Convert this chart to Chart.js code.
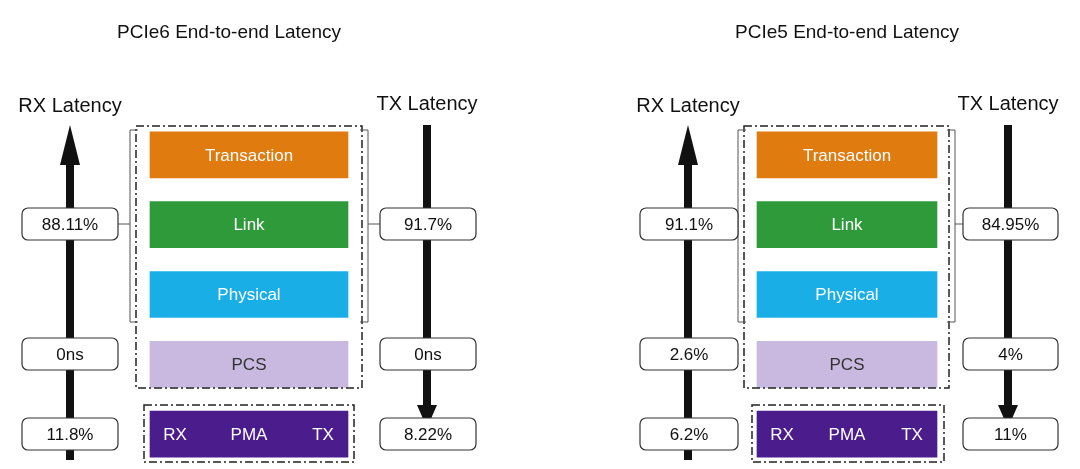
<!DOCTYPE html><html><head><meta charset="utf-8">
<script src="https://cdn.jsdelivr.net/npm/chart.js@4"></script>
<style>html,body{margin:0;background:#fff}#w{width:1080px;height:469px}</style></head><body>
<div id="w"><canvas id="c"></canvas></div>
<script>
const layers=['Transaction','Link','Physical','PCS','PMA'];
const layerColors=['#E07B10','#2E9A3A','#1AAEE6','#C9B8E0','#4B1C8C'];
const titles=['PCIe6 End-to-end Latency','PCIe5 End-to-end Latency'];
const rx6=['88.11%','0ns','11.8%'], tx6=['91.7%','0ns','8.22%'];
const rx5=['91.1%','2.6%','6.2%'], tx5=['84.95%','4%','11%'];
const spans6=[150,348], spans5=[757,937];
const panels=[{t:titles[0],rx:rx6,tx:tx6,bar:spans6,ra:70,ta:427,fr:[136,362],pm:[144,354],tx0:20,br:[130,368],rb:[22,118],tb:[380,476]},
 {t:titles[1],rx:rx5,tx:tx5,bar:spans5,ra:688,ta:1008,fr:[744,949],pm:[752,944],tx0:0,br:[738,955],rb:[640,738],tb:[963,1058]}];
function rr(ctx,x,y,w,h,r){ctx.beginPath();ctx.roundRect(x,y,w,h,r);}
const deco={id:'deco',afterDatasetsDraw(ch){
 const ctx=ch.ctx,X=ch.scales.x,Y=ch.scales.y;const px=v=>X.getPixelForValue(v);
 const cy=i=>Y.getPixelForValue(i);
 ctx.save();ctx.textAlign='center';ctx.textBaseline='middle';
 // bar labels
 panels.forEach(p=>{const a=px(p.bar[0]),b=px(p.bar[1]),m=(a+b)/2;
  layers.forEach((l,i)=>{ctx.font='17px Arial, Liberation Sans';ctx.fillStyle=i==3?'#333':'#fff';
   if(i<4)ctx.fillText(l,m,cy(i)+1);else{ctx.fillText('RX',a+25,cy(i)+1);ctx.fillText('PMA',m,cy(i)+1);ctx.fillText('TX',b-25,cy(i)+1);}});
  // title
  ctx.fillStyle='#111';ctx.font='19px Arial, Liberation Sans';ctx.fillText(p.t,m-(p===panels[0]?10:0)+ (p===panels[0]?-10:0),33);
  ctx.font='20px Arial, Liberation Sans';ctx.fillText('RX Latency',px(p.ra),106);ctx.fillText('TX Latency',px(p.ta),104);
  // arrows
  ctx.fillStyle='#111';
  const ra=px(p.ra);ctx.fillRect(ra-4,160,8,300);ctx.beginPath();ctx.moveTo(ra,125);ctx.lineTo(ra-10,165);ctx.lineTo(ra+10,165);ctx.fill();
  const ta=px(p.ta);ctx.fillRect(ta-4,125,8,285);ctx.beginPath();ctx.moveTo(ta,428);ctx.lineTo(ta-10,405);ctx.lineTo(ta+10,405);ctx.fill();
  // frames
  ctx.strokeStyle='#222';ctx.lineWidth=1.5;ctx.setLineDash([8,3,2,3]);
  ctx.strokeRect(px(p.fr[0]),126,px(p.fr[1])-px(p.fr[0]),262);
  ctx.strokeRect(px(p.pm[0]),405,px(p.pm[1])-px(p.pm[0]),57);
  ctx.setLineDash([]);ctx.lineWidth=1;ctx.strokeStyle='#555';
  const bl=px(p.br[0]),brr=px(p.br[1]);
  ctx.beginPath();ctx.moveTo(bl+8,130);ctx.lineTo(bl,130);ctx.lineTo(bl,322);ctx.lineTo(bl+8,322);ctx.moveTo(bl,224);ctx.lineTo(px(p.rb[1]),224);
  ctx.moveTo(brr-8,130);ctx.lineTo(brr,130);ctx.lineTo(brr,322);ctx.lineTo(brr-8,322);ctx.moveTo(brr,224);ctx.lineTo(px(p.tb[0]),224);ctx.stroke();
  // value boxes
  const ys=[224,354,434];ctx.font='17px Arial, Liberation Sans';
  [[p.rb,p.rx],[p.tb,p.tx]].forEach(([bx,vals])=>{vals.forEach((v,k)=>{const x0=px(bx[0]),x1=px(bx[1]);
   ctx.fillStyle='#fff';ctx.strokeStyle='#333';ctx.lineWidth=1.2;rr(ctx,x0,ys[k]-16,x1-x0,32,6);ctx.fill();ctx.stroke();
   ctx.fillStyle='#111';ctx.fillText(v,(x0+x1)/2,ys[k]+1);});});
 });
 ctx.restore();}};
new Chart(document.getElementById('c'),{type:'bar',
 data:{labels:layers,datasets:[{data:layers.map(()=>spans6)},{data:layers.map(()=>spans5)}].map(d=>({...d,backgroundColor:layerColors,barThickness:46,grouped:false}))},
 options:{indexAxis:'y',responsive:true,maintainAspectRatio:false,animation:false,
  layout:{padding:{top:120,bottom:0,left:0,right:0}},
  plugins:{legend:{display:false},tooltip:{enabled:false}},
  scales:{x:{type:'linear',min:0,max:1080,display:false},y:{display:false,offset:true}}},
 plugins:[deco]});
</script></body></html>
